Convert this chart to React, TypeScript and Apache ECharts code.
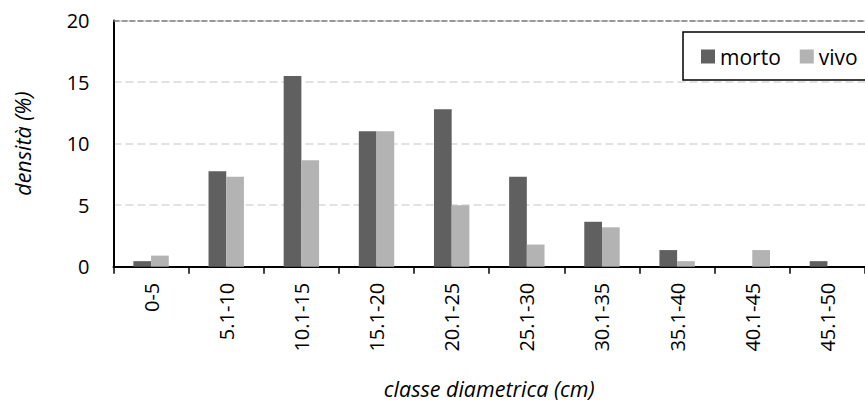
import React, { useEffect, useRef } from "react";
import * as echarts from "echarts";

const categories = ["0-5", "5.1-10", "10.1-15", "15.1-20", "20.1-25", "25.1-30", "30.1-35", "35.1-40", "40.1-45", "45.1-50"];
const morto = [0.45, 7.75, 15.5, 11.0, 12.8, 7.3, 3.65, 1.35, 0, 0.45];
const vivo = [0.9, 7.3, 8.65, 11.0, 5.0, 1.8, 3.2, 0.45, 1.35, 0];
const yTicks = { min: 0, max: 20, interval: 5 };

const FONT = "'Open Sans', 'Noto Sans', sans-serif";

export default function App() {
  const ref = useRef<HTMLDivElement>(null);
  useEffect(() => {
    if (!ref.current) return;
    const chart = echarts.init(ref.current, undefined, { renderer: "svg" });
    chart.setOption({
      animation: false,
      backgroundColor: "#ffffff",
      textStyle: { fontFamily: FONT },
      grid: { left: 113.5, top: 20.5, width: 761, height: 246.2, containLabel: false },
      legend: {
        data: ["morto", "vivo"],
        left: 683,
        top: 32,
        width: 400,
        orient: "horizontal",
        itemWidth: 14,
        itemHeight: 14,
        itemGap: 19,
        padding: [14, 30, 13, 18],
        borderColor: "#000",
        borderWidth: 1.5,
        backgroundColor: "#fff",
        textStyle: { fontFamily: FONT, fontSize: 21, color: "#000" },
        icon: "rect",
      },
      xAxis: {
        type: "category",
        data: categories,
        name: "classe diametrica (cm)",
        nameLocation: "middle",
        nameGap: 111,
        nameTextStyle: { fontFamily: FONT, fontSize: 21.5, fontStyle: "italic", color: "#000" },
        axisLine: { lineStyle: { color: "#000", width: 2 } },
        axisTick: { show: true, length: 7, lineStyle: { color: "#000", width: 1.5 } },
        axisLabel: { rotate: 90, margin: 16, fontFamily: FONT, fontSize: 20, color: "#000" },
        splitLine: { show: false },
      },
      yAxis: {
        type: "value",
        min: yTicks.min,
        max: yTicks.max,
        interval: yTicks.interval,
        name: "densità (%)",
        nameLocation: "middle",
        nameGap: 80,
        nameRotate: 90,
        nameTextStyle: { fontFamily: FONT, fontSize: 21.5, fontStyle: "italic", color: "#000" },
        axisLine: { show: true, lineStyle: { color: "#000", width: 2 } },
        axisTick: { show: false },
        axisLabel: { margin: 24, fontFamily: FONT, fontSize: 20, color: "#000" },
        splitLine: { show: true, lineStyle: { color: "#d9d9d9", type: [8, 4], width: 1.5 } },
      },
      series: [
        {
          name: "morto",
          type: "bar",
          data: morto,
          barWidth: 17.7,
          barGap: "0%",
          itemStyle: { color: "#606060" },
          markLine: {
            silent: true,
            symbol: "none",
            label: { show: false },
            lineStyle: { color: "#7f7f7f", type: [6, 2], width: 1.5 },
            data: [{ yAxis: yTicks.max }],
          },
        },
        {
          name: "vivo",
          type: "bar",
          data: vivo,
          barWidth: 17.7,
          barGap: "0%",
          itemStyle: { color: "#b3b3b3" },
        },
      ],
    });
    return () => chart.dispose();
  }, []);
  return (
    <div
      ref={ref}
      style={{ position: "fixed", left: 0, top: 0, width: 865, height: 407, background: "#fff" }}
    />
  );
}
